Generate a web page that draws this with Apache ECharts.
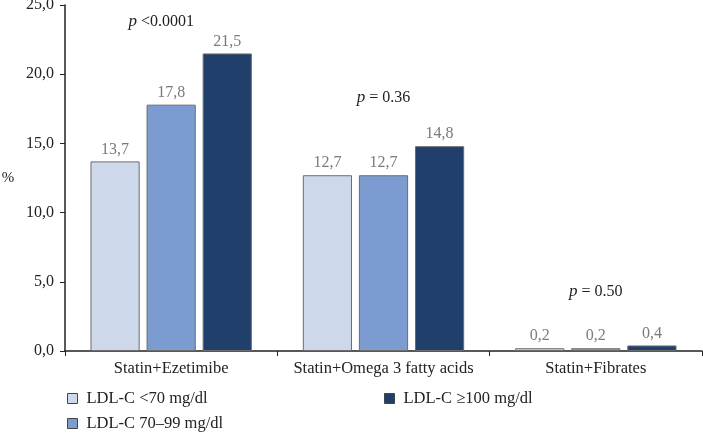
<!DOCTYPE html>
<html><head><meta charset="utf-8">
<script src="https://cdn.jsdelivr.net/npm/echarts@6/dist/echarts.min.js"></script>
<style>html,body{margin:0;padding:0;background:#fff}#c{width:703px;height:433px}</style>
</head><body><div id="c"></div>
<script>
const categories = ['Statin+Ezetimibe', 'Statin+Omega 3 fatty acids', 'Statin+Fibrates'];
const seriesNames = ['LDL-C <70 mg/dl', 'LDL-C 70\u201399 mg/dl', 'LDL-C \u2265100 mg/dl'];
const lowLDL = [13.7, 12.7, 0.2];
const midLDL = [17.8, 12.7, 0.2];
const highLDL = [21.5, 14.8, 0.4];
const pLabels = ['<0.0001', '= 0.36', '= 0.50'];
const pLevels = [23.8, 18.3, 4.3];
const yTicks = [0, 5, 10, 15, 20, 25];

const colors = ['#cdd8ea', '#7b9bd1', '#213f6b'];
const font = 'Liberation Serif';
const fmt = v => v.toFixed(1).replace('.', ',');

const chart = echarts.init(document.getElementById('c'));
const values = [lowLDL, midLDL, highLDL];
const series = values.map((d, i) => ({
  name: seriesNames[i],
  type: 'bar',
  data: d,
  barGap: '14%',
  barCategoryGap: '24%',
  itemStyle: { color: colors[i], borderColor: '#6d6d6d', borderWidth: 1 },
  label: { show: true, position: 'top', distance: 4, color: '#7a7a7a', fontFamily: font, fontSize: 16,
    formatter: p => fmt(p.value) },
  emphasis: { disabled: true }
}));
// p-value annotations anchored to the middle bar (category centre)
series[1].markPoint = {
  symbol: 'circle', symbolSize: 1,
  itemStyle: { color: 'rgba(0,0,0,0)' },
  label: { show: true, position: 'inside', align: 'center', verticalAlign: 'middle',
    fontFamily: font, fontSize: 16, color: '#222',
    formatter: p => '{i|p} ' + p.data.txt,
    rich: { i: { fontStyle: 'italic', fontFamily: font, fontSize: 17, color: '#222' } } },
  data: categories.map((c, i) => ({ coord: [c, pLevels[i]], txt: pLabels[i],
    label: i === 0 ? { offset: [-10, 0] } : {} }))
};

const legendBase = { icon: 'rect', itemWidth: 10, itemHeight: 10, orient: 'horizontal',
  textStyle: { fontFamily: font, fontSize: 16.5, color: '#222', padding: [0, 0, 0, 4] },
  itemStyle: { borderColor: '#444', borderWidth: 1 } };

chart.setOption({
  animation: false,
  color: colors,
  grid: { left: 65, right: 1, top: 5, bottom: 82, containLabel: false, outerBoundsMode: 'none' },
  legend: [
    Object.assign({}, legendBase, { data: [seriesNames[0]], left: 62, top: 385 }),
    Object.assign({}, legendBase, { data: [seriesNames[1]], left: 62, top: 410 }),
    Object.assign({}, legendBase, { data: [seriesNames[2]], left: 379, top: 385 })
  ],
  xAxis: {
    type: 'category', data: categories,
    axisLine: { lineStyle: { color: '#222', width: 1.5 } },
    axisTick: { show: true, length: 5, lineStyle: { color: '#222' } },
    axisLabel: { interval: 0, fontFamily: font, fontSize: 16.5, color: '#222', margin: 9 }
  },
  yAxis: {
    type: 'value', min: 0, max: 25, interval: 5,
    name: '%', nameLocation: 'middle', nameGap: 57, nameRotate: 0, nameMoveOverlap: false,
    nameTextStyle: { fontFamily: font, fontSize: 15, color: '#222', align: 'center' },
    axisLine: { show: true, lineStyle: { color: '#222', width: 1.5 } },
    axisTick: { show: true, length: 5, lineStyle: { color: '#222' } },
    splitLine: { show: false },
    axisLabel: { fontFamily: font, fontSize: 16, color: '#222', margin: 11,
      formatter: v => yTicks.includes(v) ? fmt(v) : '' }
  },
  series: series
});
</script></body></html>
